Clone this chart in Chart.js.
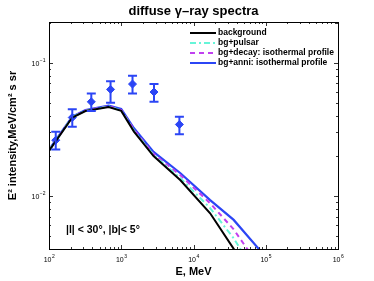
<!DOCTYPE html>
<html>
<head>
<meta charset="utf-8">
<script src="https://cdn.jsdelivr.net/npm/chart.js@4/dist/chart.umd.min.js"></script>
<style>
  html, body { margin: 0; padding: 0; background: #fff; }
  #wrap { width: 374px; height: 281px; position: relative; }
</style>
</head>
<body>
<div id="wrap"><canvas id="c" width="374" height="281"></canvas></div>
<script>
// model curves, E in MeV
const energy = [100, 210, 320, 670, 1000, 1500, 2800, 6600, 17000, 36000, 80000, 115000];
const background = [0.0218, 0.0388, 0.0434, 0.0466, 0.0435, 0.0304, 0.0199, 0.0131, 0.0074, 0.0040, 0.0020, 0.0015];
const pulsar = [0.0219, 0.0390, 0.0436, 0.0469, 0.0438, 0.0308, 0.0203, 0.0136, 0.0081, 0.0048, 0.0024, 0.0018];
const decay = [0.0220, 0.0391, 0.0438, 0.0472, 0.0442, 0.0314, 0.0207, 0.0143, 0.0088, 0.0056, 0.0030, 0.0024];
const anni = [0.0222, 0.0394, 0.0441, 0.0476, 0.0449, 0.0322, 0.0214, 0.0148, 0.0093, 0.0066, 0.0040, 0.0032];

// measured points with error bars
const dataE = [124, 210, 385, 711, 1432, 2840, 6380];
const dataVal = [0.0262, 0.0388, 0.0509, 0.0631, 0.0692, 0.0603, 0.0344];
const errLo = [0.0223, 0.0330, 0.0435, 0.0500, 0.0589, 0.0509, 0.0291];
const errHi = [0.0303, 0.0447, 0.0589, 0.0728, 0.0798, 0.0692, 0.0393];

const xTicks = [1e2, 1e3, 1e4, 1e5, 1e6];
const xTickExp = ["2", "3", "4", "5", "6"];
const yTicks = [0.01, 0.1];
const yTickExp = ["−2", "−1"];

const BLUE = "#2b45f5";
const FONT = "'Liberation Sans', Arial, sans-serif";

const pts = arr => energy.map((e, i) => ({ x: e, y: arr[i] }));

const series = [
    { label: "background", data: pts(background), borderColor: "#000", borderWidth: 2, borderDash: [] },
    { label: "bg+pulsar", data: pts(pulsar), borderColor: "#66f5d8", borderWidth: 2, borderDash: [6, 3, 2, 3] },
    { label: "bg+decay: isothermal profile", data: pts(decay), borderColor: "#c040f0", borderWidth: 2, borderDash: [5, 4] },
    { label: "bg+anni: isothermal profile", data: pts(anni), borderColor: BLUE, borderWidth: 2.2, borderDash: [] }
];

// "10" with a raised exponent
function powLabel(ctx, exp, px, py, align) {
    ctx.font = "7px " + FONT;
    const wb = ctx.measureText("10").width;
    ctx.font = "5px " + FONT;
    const we = ctx.measureText(exp).width;
    let left = align === "center" ? px - (wb + we) / 2 : px - wb - we;
    ctx.textAlign = "left";
    ctx.textBaseline = "alphabetic";
    ctx.font = "7px " + FONT;
    ctx.fillText("10", left, py);
    ctx.font = "5px " + FONT;
    ctx.fillText(exp, left + wb + 0.5, py - 4);
}

/* ============================
   EXTRA DRAWING: frame, ticks, error bars, texts
============================ */
const decor = {
    id: "decor",
    afterDatasetsDraw(chart) {
        const { ctx, chartArea: a, scales: { x, y } } = chart;
        ctx.save();

        // error bars
        ctx.strokeStyle = BLUE;
        ctx.lineWidth = 2;
        dataE.forEach((e, i) => {
            const px = x.getPixelForValue(e);
            const top = y.getPixelForValue(errHi[i]);
            const bot = y.getPixelForValue(errLo[i]);
            ctx.beginPath();
            ctx.moveTo(px, top); ctx.lineTo(px, bot);
            ctx.moveTo(px - 4.5, top); ctx.lineTo(px + 4.5, top);
            ctx.moveTo(px - 4.5, bot); ctx.lineTo(px + 4.5, bot);
            ctx.stroke();
        });

        // frame
        ctx.strokeStyle = "#000";
        ctx.lineWidth = 1;
        ctx.strokeRect(a.left + 0.5, a.top + 0.5, a.right - a.left, a.bottom - a.top);

        // inward ticks on all sides
        ctx.lineWidth = 0.8;
        ctx.beginPath();
        for (let d = 2; d < 6; d++) {
            for (let m = 1; m < 10; m++) {
                const v = m * Math.pow(10, d);
                const px = Math.round(x.getPixelForValue(v)) + 0.5;
                if (px < a.left || px > a.right) continue;
                const len = m === 1 ? 4 : 2;
                ctx.moveTo(px, a.bottom); ctx.lineTo(px, a.bottom - len);
                ctx.moveTo(px, a.top); ctx.lineTo(px, a.top + len);
            }
        }
        for (let d = -3; d < 0; d++) {
            for (let m = 1; m < 10; m++) {
                const v = m * Math.pow(10, d);
                if (v < y.min || v > y.max) continue;
                const py = Math.round(y.getPixelForValue(v)) + 0.5;
                const len = m === 1 ? 4 : 2;
                ctx.moveTo(a.left, py); ctx.lineTo(a.left + len, py);
                ctx.moveTo(a.right, py); ctx.lineTo(a.right - len, py);
            }
        }
        ctx.stroke();

        // tick labels
        ctx.fillStyle = "#000";
        xTicks.forEach((v, i) => powLabel(ctx, xTickExp[i], x.getPixelForValue(v), a.bottom + 13, "center"));
        yTicks.forEach((v, i) => powLabel(ctx, yTickExp[i], a.left - 4, y.getPixelForValue(v) + 3, "right"));

        // title and axis titles
        ctx.font = "bold 13px " + FONT;
        ctx.textAlign = "center";
        ctx.textBaseline = "middle";
        ctx.fillText("diffuse γ–ray spectra", (a.left + a.right) / 2, 11);
        ctx.font = "bold 11px " + FONT;
        ctx.fillText("E, MeV", (a.left + a.right) / 2, 272);
        ctx.save();
        ctx.translate(13, (a.top + a.bottom) / 2);
        ctx.rotate(-Math.PI / 2);
        ctx.fillText("E² intensity,MeV/cm² s sr", 0, 0);
        ctx.restore();

        // region note
        ctx.font = "bold 10.5px " + FONT;
        ctx.textAlign = "left";
        ctx.fillText("|l| < 30°, |b|< 5°", 66, 230);

        // legend
        ctx.font = "bold 8.5px " + FONT;
        series.forEach((s, i) => {
            const ly = 33 + i * 10;
            ctx.strokeStyle = s.borderColor;
            ctx.lineWidth = 2;
            ctx.setLineDash(s.borderDash);
            ctx.beginPath();
            ctx.moveTo(190, ly); ctx.lineTo(216, ly);
            ctx.stroke();
            ctx.setLineDash([]);
            ctx.fillStyle = "#000";
            ctx.fillText(s.label, 218, ly);
        });

        ctx.restore();
    }
};

new Chart(document.getElementById("c"), {
    type: "line",
    data: {
        datasets: [
            ...series.map(s => ({
                label: s.label, data: s.data, borderColor: s.borderColor,
                borderWidth: s.borderWidth, borderDash: s.borderDash,
                pointRadius: 0, tension: 0, fill: false
            })),
            {
                label: "data", data: dataE.map((e, i) => ({ x: e, y: dataVal[i] })),
                showLine: false, pointStyle: "rectRot", pointRadius: 4,
                pointBackgroundColor: BLUE, pointBorderColor: BLUE, borderColor: BLUE
            }
        ]
    },
    options: {
        responsive: false,
        animation: false,
        layout: { padding: { top: 22, right: 36, left: 0, bottom: 0 } },
        plugins: { legend: { display: false }, tooltip: { enabled: false }, title: { display: false } },
        scales: {
            x: {
                type: "logarithmic", min: 100, max: 1e6,
                grid: { display: false }, border: { display: false },
                ticks: { display: false },
                afterFit: s => { s.height = 32; }
            },
            y: {
                type: "logarithmic", min: 0.00399, max: 0.2025,
                grid: { display: false }, border: { display: false },
                ticks: { display: false },
                afterFit: s => { s.width = 49; }
            }
        }
    },
    plugins: [decor]
});
</script>
</body>
</html>
